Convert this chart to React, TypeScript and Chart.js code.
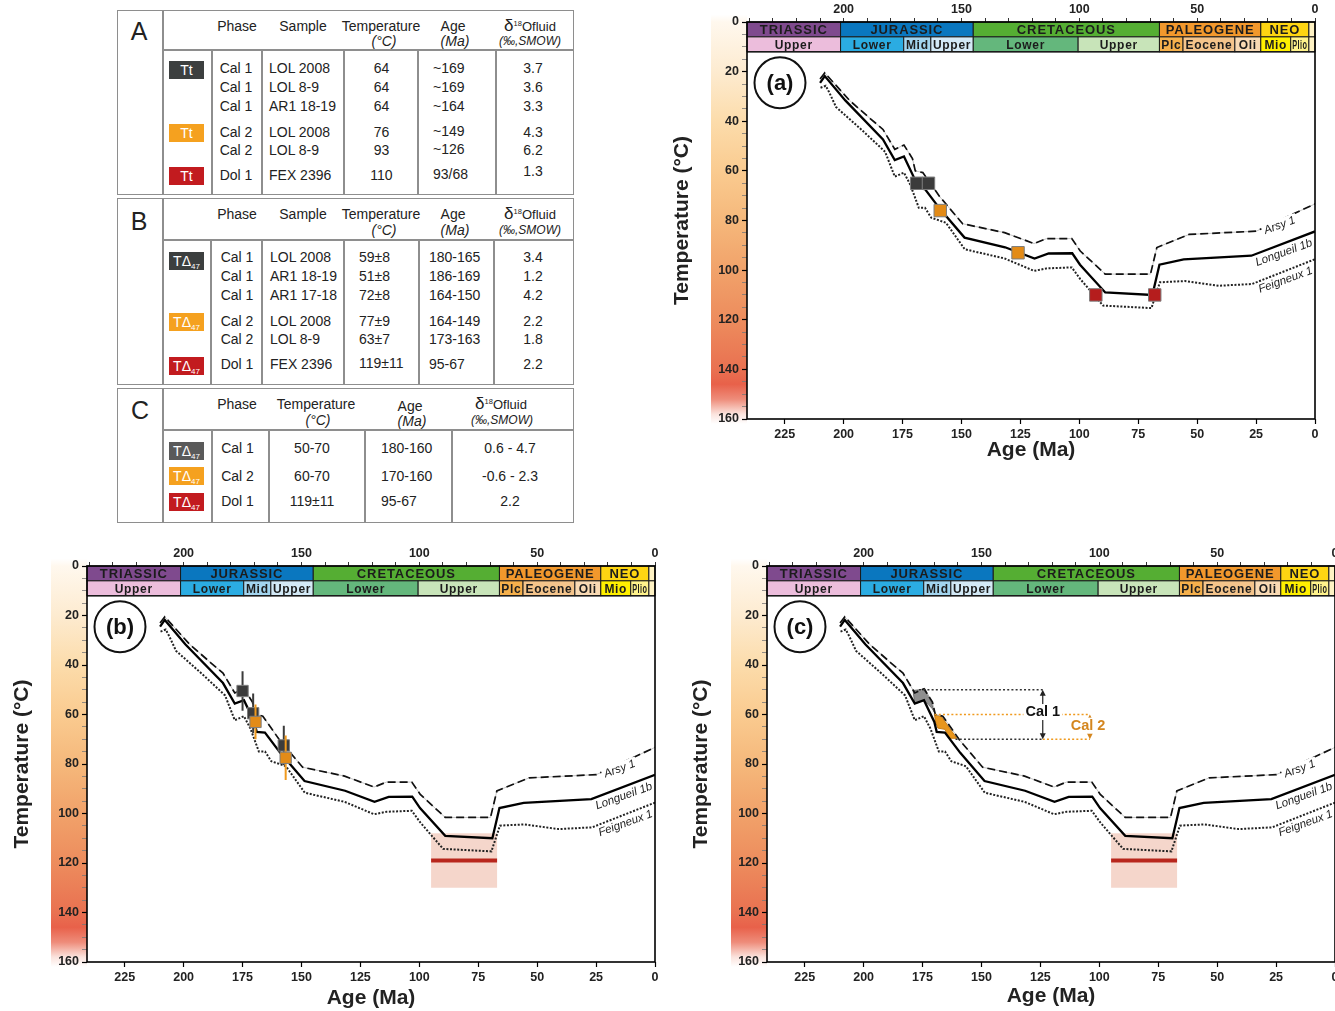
import React, { useEffect, useRef } from "react";
import { Chart, registerables } from "chart.js";
Chart.register(...registerables);

const FONT = '"Liberation Sans", Arial, Helvetica, sans-serif';

// ---------- Burial / thermal curves (age in Ma, temperature in °C) ----------
const ARSY_AGE = [210, 208, 197.5, 188.6, 183.3, 178.3, 174.4, 170.8, 169.6, 166.4, 159.3, 149.5, 131.7, 119.2, 113.9, 103.2, 99.6, 89, 69.8, 67.1, 53.4, 24.9, 0];
const ARSY_T = [23, 20.5, 31.6, 39, 43.3, 51.3, 49.6, 55, 60, 60.7, 70.3, 81.3, 84.9, 89.3, 87.3, 87.3, 92.3, 101.6, 101.6, 90.9, 85.6, 84.3, 73.3];
const LONG_AGE = [210, 208, 199.3, 183.3, 178.3, 174.4, 170, 169, 165.5, 159, 148.7, 131.5, 119, 113, 103, 99.7, 89, 69, 66, 55.7, 27, 0];
const LONG_T = [24.5, 21.8, 31.6, 47.3, 55.6, 54.2, 63, 67, 67.3, 75.5, 86.9, 90.8, 95.3, 93.3, 93.2, 97.8, 109, 110, 97.8, 95.7, 94.2, 84.4];
const FEIG_AGE = [209.8, 207.6, 206.2, 203.2, 192.2, 182.4, 178.3, 174.4, 171.7, 168.1, 165.5, 162.8, 156.6, 148.6, 131.7, 119.2, 113.9, 103.2, 99.6, 89.9, 69.4, 65.8, 55.2, 40.9, 26.7, 0];
const FEIG_T = [26.5, 25.7, 28.2, 34.3, 43.6, 52.3, 62.3, 60.7, 65.6, 74.9, 74.9, 78.9, 80.9, 91.6, 95.3, 100.3, 99.3, 98.9, 103.6, 114.3, 115.3, 104.9, 104.4, 106.3, 105.6, 95.6];
const WELL_NAMES = ["Arsy 1", "Longueil 1b", "Feigneux 1"];
const WELL_LABEL_AGE = [15, 13.2, 12.5];
const WELL_LABEL_T = [82, 93, 104];

// ---------- Panel (a): Tt markers ----------
const A_CAL1_AGE = [169, 164];
const A_CAL1_T = [65, 65];
const A_CAL2_AGE = [159, 126];
const A_CAL2_T = [76, 93];
const A_DOL1_AGE = [93, 68];
const A_DOL1_T = [110, 110];

// ---------- Panel (b): TΔ47 markers with errors ----------
const B_CAL1_AGE = [175, 170.5, 157.5];
const B_CAL1_T = [50.5, 59.5, 72.5];
const B_CAL1_ERR = [8, 8, 8];
const B_CAL2_AGE = [169.5, 156.7];
const B_CAL2_T = [63, 77.5];
const B_CAL2_ERR = [7, 9];
const DOL1_AGE_RANGE = [95, 67];
const DOL1_T = 119;
const DOL1_ERR = 11;

// ---------- Panel (c): zones ----------
const C_CAL1_ZONE_AGE = [179, 176, 174, 171.5, 170, 171, 172.5, 174.4, 178.3];
const C_CAL1_ZONE_T = [50.3, 50, 49.5, 54.5, 59, 57.5, 56, 54.3, 55.6];
const C_CAL2_ZONE_AGE = [169.9, 167, 160.5, 163.5, 165.5, 168.5, 169.5];
const C_CAL2_ZONE_T = [60, 60.8, 69.6, 69.6, 66, 65.5, 63];
const CAL1_T_RANGE = [50, 70];
const CAL2_T_RANGE = [60, 70];
const CAL1_GUIDE_AGE = [176.5, 161, 124];
const CAL2_GUIDE_AGE = [169.9, 161, 104];

// ---------- Geological time scale ----------
const PERIOD_NAMES = ["TRIASSIC", "JURASSIC", "CRETACEOUS", "PALEOGENE", "NEO", ""];
const PERIOD_FROM = [241, 201.3, 145, 66, 23, 2.6];
const PERIOD_TO = [201.3, 145, 66, 23, 2.6, 0];
const PERIOD_COLORS = ["#7f4a8e", "#0a77bf", "#55ae33", "#f2982c", "#fed512", "#fff3c4"];
const EPOCH_NAMES = ["Upper", "Lower", "Mid", "Upper", "Lower", "Upper", "Plc", "Eocene", "Oli", "Mio", "Plio", ""];
const EPOCH_FROM = [241, 201.3, 174.5, 163, 145, 100.5, 66, 56, 34, 23, 10.3, 2.6];
const EPOCH_TO = [201.3, 174.5, 163, 145, 100.5, 66, 56, 34, 23, 10.3, 2.6, 0];
const EPOCH_COLORS = ["#ecbddc", "#2bace2", "#a3d5ef", "#d3e9f6", "#64b77c", "#c8e4b9", "#f5b04c", "#f4c48b", "#f8d9b3", "#fff000", "#fff38c", "#fff3c4"];

// ---------- Axes ----------
const X_TICKS = [225, 200, 175, 150, 125, 100, 75, 50, 25, 0];
const X_TOP_TICKS = [240, 230, 220, 210, 200, 190, 180, 170, 160, 150, 140, 130, 120, 110, 100, 90, 80, 70, 60, 50, 40, 30, 20, 10, 0];
const X_TOP_LABELS = [200, 150, 100, 50, 0];
const Y_TICKS = [0, 5, 10, 15, 20, 25, 30, 35, 40, 45, 50, 55, 60, 65, 70, 75, 80, 85, 90, 95, 100, 105, 110, 115, 120, 125, 130, 135, 140, 145, 150, 155, 160];

const GRAD_T = [-3, 0, 20, 40, 60, 80, 100, 120, 140, 146, 152, 158, 162];
const GRAD_C = ["#ffffff", "#fff8ee", "#fdebd0", "#fcdcab", "#facb90", "#f5b87b", "#f1a26a", "#ed8c5d", "#e97151", "#e8614a", "#ee8c7a", "#fbe3dd", "#ffffff"];

const DARK = "#3b3b3b";
const ORANGE = "#e38b17";
const ORANGE_BAR = "#f09a1e";
const RED = "#b51d1d";

type PanelId = "a" | "b" | "c";
type PanelCfg = {
  id: PanelId;
  left: number;
  top: number;
  width: number;
  height: number;
  padRight: number;
  topAxisH: number;
  bottomAxisH: number;
  yTitlePad: number;
  xTitlePad: number;
};

const PANELS: PanelCfg[] = [
  { id: "a", left: 660, top: 0, width: 675, height: 470, padRight: 20, topAxisH: 22, bottomAxisH: 51, yTitlePad: 10, xTitlePad: 7 },
  { id: "b", left: 0, top: 540, width: 670, height: 471, padRight: 15, topAxisH: 26, bottomAxisH: 49, yTitlePad: 10, xTitlePad: 0 },
  { id: "c", left: 680, top: 540, width: 675, height: 471, padRight: 20, topAxisH: 26, bottomAxisH: 49, yTitlePad: 9, xTitlePad: 2 },
];

const pts = (ages: number[], temps: number[]) => ages.map((a, i) => ({ x: a, y: temps[i] }));

function fitText(ctx: CanvasRenderingContext2D, text: string, cx: number, cy: number, maxW: number) {
  const w = ctx.measureText(text).width;
  if (w > maxW && w > 0) {
    ctx.save();
    ctx.translate(cx, cy);
    ctx.scale(maxW / w, 1);
    ctx.fillText(text, 0, 0);
    ctx.restore();
  } else {
    ctx.fillText(text, cx, cy);
  }
}

function drawArrow(ctx: CanvasRenderingContext2D, x: number, y1: number, y2: number, color: string, dashed: boolean) {
  ctx.save();
  ctx.strokeStyle = color;
  ctx.fillStyle = color;
  ctx.lineWidth = 1.2;
  if (dashed) ctx.setLineDash([2, 2]);
  ctx.beginPath();
  ctx.moveTo(x, y1 + 4);
  ctx.lineTo(x, y2 - 4);
  ctx.stroke();
  ctx.setLineDash([]);
  ctx.beginPath();
  ctx.moveTo(x, y1);
  ctx.lineTo(x - 3, y1 + 6);
  ctx.lineTo(x + 3, y1 + 6);
  ctx.closePath();
  ctx.fill();
  ctx.beginPath();
  ctx.moveTo(x, y2);
  ctx.lineTo(x - 3, y2 - 6);
  ctx.lineTo(x + 3, y2 - 6);
  ctx.closePath();
  ctx.fill();
  ctx.restore();
}

function makePlugin(id: PanelId) {
  return {
    id: "deco" + id,
    beforeDraw(chart: any) {
      const ctx: CanvasRenderingContext2D = chart.ctx;
      const ys = chart.scales.y;
      const { left } = chart.chartArea;
      const yTop = ys.getPixelForValue(GRAD_T[0]);
      const yBot = ys.getPixelForValue(GRAD_T[GRAD_T.length - 1]);
      const g = ctx.createLinearGradient(0, yTop, 0, yBot);
      GRAD_T.forEach((t, i) => {
        g.addColorStop((ys.getPixelForValue(t) - yTop) / (yBot - yTop), GRAD_C[i]);
      });
      ctx.save();
      ctx.fillStyle = g;
      ctx.fillRect(left - 36, yTop, 36, yBot - yTop);
      ctx.restore();
    },
    beforeDatasetsDraw(chart: any) {
      const ctx: CanvasRenderingContext2D = chart.ctx;
      const xs = chart.scales.x;
      const ys = chart.scales.y;
      ctx.save();
      if (id === "b" || id === "c") {
        const x1 = xs.getPixelForValue(DOL1_AGE_RANGE[0]);
        const x2 = xs.getPixelForValue(DOL1_AGE_RANGE[1]);
        const y1 = ys.getPixelForValue(DOL1_T - DOL1_ERR);
        const y2 = ys.getPixelForValue(DOL1_T + DOL1_ERR);
        ctx.fillStyle = "#f5d6cb";
        ctx.fillRect(x1, y1, x2 - x1, y2 - y1);
      }
      if (id === "c") {
        const poly = (ages: number[], temps: number[], fill: string, stroke: string) => {
          ctx.beginPath();
          ages.forEach((a, i) => {
            const px = xs.getPixelForValue(a);
            const py = ys.getPixelForValue(temps[i]);
            if (i === 0) ctx.moveTo(px, py);
            else ctx.lineTo(px, py);
          });
          ctx.closePath();
          ctx.fillStyle = fill;
          ctx.fill();
          ctx.strokeStyle = stroke;
          ctx.lineWidth = 1;
          ctx.stroke();
        };
        poly(C_CAL1_ZONE_AGE, C_CAL1_ZONE_T, "#8e8e8e", "#6a6a6a");
        poly(C_CAL2_ZONE_AGE, C_CAL2_ZONE_T, "#e8961d", "#c87a10");
      }
      ctx.restore();
    },
    afterDatasetsDraw(chart: any) {
      const ctx: CanvasRenderingContext2D = chart.ctx;
      const xs = chart.scales.x;
      const ys = chart.scales.y;
      const ca = chart.chartArea;
      ctx.save();

      // well labels
      ctx.font = `italic 11.5px ${FONT}`;
      ctx.textAlign = "center";
      ctx.textBaseline = "middle";
      WELL_NAMES.forEach((name, i) => {
        const px = xs.getPixelForValue(WELL_LABEL_AGE[i]);
        const py = ys.getPixelForValue(WELL_LABEL_T[i]);
        const w = ctx.measureText(name).width;
        ctx.save();
        ctx.translate(px, py);
        ctx.rotate((-20 * Math.PI) / 180);
        ctx.fillStyle = "#ffffff";
        ctx.fillRect(-w / 2 - 2, -6.5, w + 4, 13);
        ctx.fillStyle = "#222";
        ctx.fillText(name, 0, 0);
        ctx.restore();
      });

      // panel (c) annotations
      if (id === "c") {
        const hline = (a1: number, a2: number, t: number, color: string) => {
          ctx.save();
          ctx.strokeStyle = color;
          ctx.lineWidth = 1.6;
          ctx.setLineDash([2, 2.2]);
          ctx.beginPath();
          ctx.moveTo(xs.getPixelForValue(a1), ys.getPixelForValue(t));
          ctx.lineTo(xs.getPixelForValue(a2), ys.getPixelForValue(t));
          ctx.stroke();
          ctx.restore();
        };
        hline(CAL1_GUIDE_AGE[0], CAL1_GUIDE_AGE[2], CAL1_T_RANGE[0], "#333");
        hline(CAL1_GUIDE_AGE[1], CAL1_GUIDE_AGE[2], CAL1_T_RANGE[1], "#333");
        hline(CAL2_GUIDE_AGE[0], CAL2_GUIDE_AGE[2], CAL2_T_RANGE[0], ORANGE_BAR);
        hline(CAL1_GUIDE_AGE[2], CAL2_GUIDE_AGE[2], CAL2_T_RANGE[1], ORANGE_BAR);
        const ax1 = xs.getPixelForValue(CAL1_GUIDE_AGE[2]);
        drawArrow(ctx, ax1, ys.getPixelForValue(CAL1_T_RANGE[0]), ys.getPixelForValue(CAL1_T_RANGE[1]), "#222", false);
        const ax2 = xs.getPixelForValue(CAL2_GUIDE_AGE[2]);
        drawArrow(ctx, ax2, ys.getPixelForValue(CAL2_T_RANGE[0]), ys.getPixelForValue(CAL2_T_RANGE[1]), "#d4861f", true);
        ctx.font = `bold 14.5px ${FONT}`;
        ctx.textAlign = "center";
        ctx.textBaseline = "middle";
        const lab = (txt: string, a: number, t: number, color: string) => {
          const px = xs.getPixelForValue(a);
          const py = ys.getPixelForValue(t);
          const w = ctx.measureText(txt).width;
          ctx.fillStyle = "#fff";
          ctx.fillRect(px - w / 2 - 2, py - 8, w + 4, 16);
          ctx.fillStyle = color;
          ctx.fillText(txt, px, py);
        };
        lab("Cal 1", CAL1_GUIDE_AGE[2], 59, "#111");
        lab("Cal 2", CAL2_GUIDE_AGE[2] + 0.8, 64.5, "#d4861f");
      }

      // circled panel letter
      {
        const cx = xs.getPixelForValue(227);
        const cy = ys.getPixelForValue(24.5);
        ctx.beginPath();
        ctx.arc(cx, cy, 25.5, 0, Math.PI * 2);
        ctx.fillStyle = "#fff";
        ctx.fill();
        ctx.lineWidth = 2;
        ctx.strokeStyle = "#111";
        ctx.stroke();
        ctx.fillStyle = "#111";
        ctx.font = `bold 22px ${FONT}`;
        ctx.textAlign = "center";
        ctx.textBaseline = "middle";
        ctx.fillText(`(${id})`, cx, cy + 1);
      }

      // time scale
      const r0 = ys.getPixelForValue(0);
      const r1 = ys.getPixelForValue(6);
      const r2 = ys.getPixelForValue(12);
      ctx.textAlign = "center";
      ctx.textBaseline = "middle";
      ctx.lineWidth = 1;
      ctx.strokeStyle = "#1a1a1a";
      PERIOD_NAMES.forEach((name, i) => {
        const x1 = xs.getPixelForValue(PERIOD_FROM[i]);
        const x2 = xs.getPixelForValue(PERIOD_TO[i]);
        ctx.fillStyle = PERIOD_COLORS[i];
        ctx.fillRect(x1, r0, x2 - x1, r1 - r0);
        ctx.strokeRect(x1, r0, x2 - x1, r1 - r0);
        if (name) {
          ctx.fillStyle = "#1c1c1c";
          ctx.font = `bold 13px ${FONT}`;
          (ctx as any).letterSpacing = "0.9px";
          fitText(ctx, name, (x1 + x2) / 2, (r0 + r1) / 2 + 1, x2 - x1 - 3);
          (ctx as any).letterSpacing = "0px";
        }
      });
      EPOCH_NAMES.forEach((name, i) => {
        const x1 = xs.getPixelForValue(EPOCH_FROM[i]);
        const x2 = xs.getPixelForValue(EPOCH_TO[i]);
        ctx.fillStyle = EPOCH_COLORS[i];
        ctx.fillRect(x1, r1, x2 - x1, r2 - r1);
        ctx.strokeRect(x1, r1, x2 - x1, r2 - r1);
        if (name) {
          ctx.fillStyle = "#1c1c1c";
          ctx.font = `bold 12px ${FONT}`;
          (ctx as any).letterSpacing = "0.7px";
          fitText(ctx, name, (x1 + x2) / 2, (r1 + r2) / 2 + 1, x2 - x1 - 3);
          (ctx as any).letterSpacing = "0px";
        }
      });
      ctx.lineWidth = 1.6;
      ctx.beginPath();
      ctx.moveTo(ca.left, r2);
      ctx.lineTo(ca.right, r2);
      ctx.stroke();

      // frame
      ctx.strokeStyle = "#000";
      ctx.lineWidth = 1.6;
      ctx.strokeRect(ca.left, ca.top, ca.right - ca.left, ca.bottom - ca.top);
      ctx.restore();
    },
  };
}

function buildConfig(cfg: PanelCfg): any {
  const lineBase = { showLine: true, pointRadius: 0, fill: false, tension: 0 };
  const datasets: any[] = [
    { ...lineBase, data: pts(ARSY_AGE, ARSY_T), borderColor: "#b5b5b5", borderWidth: 0.8, order: 20 },
    { ...lineBase, data: pts(ARSY_AGE, ARSY_T), borderColor: "#111", borderWidth: 1.7, borderDash: [8, 4], order: 19 },
    { ...lineBase, data: pts(LONG_AGE, LONG_T), borderColor: "#000", borderWidth: 2.3, order: 18 },
    { ...lineBase, data: pts(FEIG_AGE, FEIG_T), borderColor: "#222", borderWidth: 2, borderDash: [2, 1.6], order: 17 },
  ];
  const marker = (ages: number[], temps: number[], color: string, r: number, order: number) => ({
    data: pts(ages, temps),
    showLine: false,
    pointStyle: "rect",
    pointRadius: r,
    backgroundColor: color,
    borderColor: "#7d7d7d",
    borderWidth: 1,
    order,
  });
  if (cfg.id === "a") {
    datasets.push(marker(A_CAL1_AGE, A_CAL1_T, DARK, 8.8, 3));
    datasets.push(marker(A_CAL2_AGE, A_CAL2_T, ORANGE, 8.8, 2));
    datasets.push(marker(A_DOL1_AGE, A_DOL1_T, RED, 8.8, 1));
  }
  if (cfg.id === "b") {
    B_CAL1_AGE.forEach((a, i) => {
      datasets.push({ ...lineBase, data: [{ x: a, y: B_CAL1_T[i] - B_CAL1_ERR[i] }, { x: a, y: B_CAL1_T[i] + B_CAL1_ERR[i] }], borderColor: DARK, borderWidth: 2, order: 4 });
    });
    datasets.push(marker(B_CAL1_AGE, B_CAL1_T, DARK, 8, 3));
    B_CAL2_AGE.forEach((a, i) => {
      datasets.push({ ...lineBase, data: [{ x: a, y: B_CAL2_T[i] - B_CAL2_ERR[i] }, { x: a, y: B_CAL2_T[i] + B_CAL2_ERR[i] }], borderColor: ORANGE_BAR, borderWidth: 2, order: 2 });
    });
    datasets.push(marker(B_CAL2_AGE, B_CAL2_T, ORANGE, 8, 1));
  }
  if (cfg.id === "b" || cfg.id === "c") {
    datasets.push({ ...lineBase, data: [{ x: DOL1_AGE_RANGE[0], y: DOL1_T }, { x: DOL1_AGE_RANGE[1], y: DOL1_T }], borderColor: "#b8261c", borderWidth: 4, order: 0 });
  }

  const tickFont = { family: FONT, size: 12.5, weight: "bold" as const };
  return {
    type: "scatter",
    data: { datasets },
    plugins: [makePlugin(cfg.id)],
    options: {
      animation: false,
      responsive: false,
      events: [],
      layout: { padding: { left: 0, right: cfg.padRight, top: 0, bottom: 0 } },
      plugins: { legend: { display: false }, tooltip: { enabled: false } },
      scales: {
        x: {
          type: "linear",
          position: "bottom",
          min: 0,
          max: 241,
          reverse: true,
          afterBuildTicks: (s: any) => {
            s.ticks = X_TICKS.map((v) => ({ value: v }));
          },
          afterFit: (s: any) => {
            s.height = cfg.bottomAxisH;
          },
          ticks: { font: tickFont, color: "#222", padding: 3, maxRotation: 0, autoSkip: false, callback: (v: any) => String(v) },
          grid: { drawOnChartArea: false, drawTicks: true, tickLength: 5, tickColor: "#000", tickWidth: 1.2 },
          border: { display: false },
          title: { display: true, text: "Age (Ma)", color: "#222", font: { family: FONT, size: 21, weight: "bold" }, padding: { top: 0, bottom: cfg.xTitlePad } },
        },
        xTop: {
          type: "linear",
          position: "top",
          min: 0,
          max: 241,
          reverse: true,
          afterBuildTicks: (s: any) => {
            s.ticks = X_TOP_TICKS.map((v) => ({ value: v }));
          },
          afterFit: (s: any) => {
            s.height = cfg.topAxisH;
          },
          ticks: {
            font: tickFont,
            color: "#222",
            padding: 1,
            maxRotation: 0,
            autoSkip: false,
            callback: (v: any) => (X_TOP_LABELS.includes(Number(v)) ? String(v) : ""),
          },
          grid: { drawOnChartArea: false, drawTicks: true, tickLength: 4, tickColor: "#333", tickWidth: 1 },
          border: { display: false },
        },
        y: {
          type: "linear",
          position: "left",
          min: 0,
          max: 160,
          reverse: true,
          afterBuildTicks: (s: any) => {
            s.ticks = Y_TICKS.map((v) => ({ value: v }));
          },
          afterFit: (s: any) => {
            s.width = 87;
          },
          ticks: { font: tickFont, color: "#222", padding: 3, autoSkip: false, callback: (v: any) => (Number(v) % 20 === 0 ? String(v) : "") },
          grid: {
            drawOnChartArea: false,
            drawTicks: true,
            tickLength: 5,
            tickColor: (c: any) => (c.tick && c.tick.value % 20 === 0 ? "#000" : "#777"),
            tickWidth: (c: any) => (c.tick && c.tick.value % 20 === 0 ? 1.2 : 0.8),
          },
          border: { display: false },
          title: { display: true, text: "Temperature (°C)", color: "#222", font: { family: FONT, size: 21, weight: "bold" }, padding: { top: cfg.yTitlePad, bottom: 0 } },
        },
      },
    },
  };
}

function Panel({ cfg }: { cfg: PanelCfg }) {
  const ref = useRef<HTMLCanvasElement>(null);
  useEffect(() => {
    const chart = new Chart(ref.current as HTMLCanvasElement, buildConfig(cfg));
    return () => chart.destroy();
  }, []);
  return (
    <canvas
      ref={ref}
      width={cfg.width}
      height={cfg.height}
      style={{ position: "absolute", left: cfg.left, top: cfg.top, width: cfg.width, height: cfg.height }}
    />
  );
}

// ---------- Tables ----------
const A_PHASE = ["Cal 1", "Cal 1", "Cal 1", "Cal 2", "Cal 2", "Dol 1"];
const A_SAMPLE = ["LOL 2008", "LOL 8-9", "AR1 18-19", "LOL 2008", "LOL 8-9", "FEX 2396"];
const A_TEMP = ["64", "64", "64", "76", "93", "110"];
const A_AGE = ["~169", "~169", "~164", "~149", "~126", "93/68"];
const A_D18O = ["3.7", "3.6", "3.3", "4.3", "6.2", "1.3"];

const B_PHASE = ["Cal 1", "Cal 1", "Cal 1", "Cal 2", "Cal 2", "Dol 1"];
const B_SAMPLE = ["LOL 2008", "AR1 18-19", "AR1 17-18", "LOL 2008", "LOL 8-9", "FEX 2396"];
const B_TEMP = ["59±8", "51±8", "72±8", "77±9", "63±7", "119±11"];
const B_AGE = ["180-165", "186-169", "164-150", "164-149", "173-163", "95-67"];
const B_D18O = ["3.4", "1.2", "4.2", "2.2", "1.8", "2.2"];

const C_PHASE = ["Cal 1", "Cal 2", "Dol 1"];
const C_TEMP = ["50-70", "60-70", "119±11"];
const C_AGE = ["180-160", "170-160", "95-67"];
const C_D18O = ["0.6 - 4.7", "-0.6 - 2.3", "2.2"];

const BADGE_COLORS = ["#3c3f3f", "#f5a11f", "#c21b1f"];

const A_ROW_Y = [68, 87, 106, 132, 150, 175];
const B_ROW_Y = [257, 276, 295, 321, 339, 364];
const C_ROW_Y = [448, 476, 501];

const LINE_C = "#8e8e8e";
const TXT = "#222";

function Txt({ x, y, children, anchor = "middle", size = 14, italic = false }: any) {
  const tx = anchor === "middle" ? "-50%" : anchor === "end" ? "-100%" : "0";
  return (
    <div
      style={{
        position: "absolute",
        left: x,
        top: y,
        transform: `translate(${tx}, -50%)`,
        whiteSpace: "nowrap",
        fontSize: size,
        fontStyle: italic ? "italic" : "normal",
        lineHeight: 1,
        color: TXT,
        fontFamily: FONT,
      }}
    >
      {children}
    </div>
  );
}

function HL({ x1, x2, y }: any) {
  return <div style={{ position: "absolute", left: x1, top: y - 0.75, width: x2 - x1, height: 1.5, background: LINE_C }} />;
}
function VL({ x, y1, y2 }: any) {
  return <div style={{ position: "absolute", left: x - 0.75, top: y1, width: 1.5, height: y2 - y1, background: LINE_C }} />;
}
function Box({ x1, y1, x2, y2 }: any) {
  return (
    <div
      style={{ position: "absolute", left: x1, top: y1, width: x2 - x1, height: y2 - y1, border: `1.5px solid ${LINE_C}`, boxSizing: "border-box" }}
    />
  );
}
function Badge({ y, color, delta }: any) {
  return (
    <div
      style={{
        position: "absolute",
        left: 169,
        top: y,
        width: 35,
        height: 18,
        background: color,
        color: "#fff",
        fontFamily: FONT,
        fontSize: 14,
        lineHeight: "18px",
        textAlign: "center",
        whiteSpace: "nowrap",
      }}
    >
      {delta ? (
        <span>
          TΔ<sub style={{ fontSize: 8, verticalAlign: "-3px" }}>47</sub>
        </span>
      ) : (
        "Tt"
      )}
    </div>
  );
}
function Delta({ x, y }: any) {
  return (
    <Txt x={x} y={y} size={13}>
      <span style={{ fontSize: 17 }}>δ</span>
      <sup style={{ fontSize: 7.5, verticalAlign: "5px" }}>18</sup>Ofluid
    </Txt>
  );
}

function Tables() {
  return (
    <div>
      {/* Table A */}
      <Box x1={117} y1={10} x2={574} y2={195} />
      <VL x={163} y1={10} y2={195} />
      <HL x1={163} x2={573} y={50} />
      {[212, 262, 344, 418, 496].map((x) => (
        <VL key={"av" + x} x={x} y1={50} y2={195} />
      ))}
      <Txt x={139} y={31} size={25}>A</Txt>
      <Txt x={237} y={26}>Phase</Txt>
      <Txt x={303} y={26}>Sample</Txt>
      <Txt x={381} y={26}>Temperature</Txt>
      <Txt x={384} y={41} italic>(°C)</Txt>
      <Txt x={453} y={26}>Age</Txt>
      <Txt x={455} y={41} italic>(Ma)</Txt>
      <Delta x={530} y={25} />
      <Txt x={530} y={41} size={12} italic>(‰,SMOW)</Txt>
      <Badge y={61} color={BADGE_COLORS[0]} />
      <Badge y={124} color={BADGE_COLORS[1]} />
      <Badge y={167} color={BADGE_COLORS[2]} />
      {A_PHASE.map((p, i) => (
        <React.Fragment key={"ar" + i}>
          <Txt x={236} y={A_ROW_Y[i]}>{p}</Txt>
          <Txt x={269} y={A_ROW_Y[i]} anchor="start">{A_SAMPLE[i]}</Txt>
          <Txt x={381.5} y={A_ROW_Y[i]}>{A_TEMP[i]}</Txt>
          <Txt x={433} y={A_ROW_Y[i] - (i >= 3 ? 1.5 : 0)} anchor="start">{A_AGE[i]}</Txt>
          <Txt x={533} y={A_ROW_Y[i] - (i === 5 ? 4 : 0)}>{A_D18O[i]}</Txt>
        </React.Fragment>
      ))}

      {/* Table B */}
      <Box x1={117} y1={198} x2={574} y2={385} />
      <VL x={163} y1={198} y2={385} />
      <HL x1={163} x2={573} y={240} />
      {[211, 262, 344, 419, 494].map((x) => (
        <VL key={"bv" + x} x={x} y1={240} y2={385} />
      ))}
      <Txt x={139} y={221} size={25}>B</Txt>
      <Txt x={237} y={214}>Phase</Txt>
      <Txt x={303} y={214}>Sample</Txt>
      <Txt x={381} y={214}>Temperature</Txt>
      <Txt x={384} y={230} italic>(°C)</Txt>
      <Txt x={453} y={214}>Age</Txt>
      <Txt x={455} y={230} italic>(Ma)</Txt>
      <Delta x={530} y={213} />
      <Txt x={530} y={230} size={12} italic>(‰,SMOW)</Txt>
      <Badge y={252} color={BADGE_COLORS[0]} delta />
      <Badge y={313} color={BADGE_COLORS[1]} delta />
      <Badge y={357} color={BADGE_COLORS[2]} delta />
      {B_PHASE.map((p, i) => (
        <React.Fragment key={"br" + i}>
          <Txt x={237} y={B_ROW_Y[i]}>{p}</Txt>
          <Txt x={270} y={B_ROW_Y[i]} anchor="start">{B_SAMPLE[i]}</Txt>
          <Txt x={359} y={B_ROW_Y[i] - (i === 5 ? 1 : 0)} anchor="start">{B_TEMP[i]}</Txt>
          <Txt x={429} y={B_ROW_Y[i]} anchor="start">{B_AGE[i]}</Txt>
          <Txt x={533} y={B_ROW_Y[i]}>{B_D18O[i]}</Txt>
        </React.Fragment>
      ))}

      {/* Table C */}
      <Box x1={117} y1={388} x2={574} y2={523} />
      <VL x={163} y1={388} y2={523} />
      <HL x1={163} x2={573} y={430} />
      {[212, 269, 365, 452].map((x) => (
        <VL key={"cv" + x} x={x} y1={430} y2={523} />
      ))}
      <Txt x={140} y={410} size={25}>C</Txt>
      <Txt x={237} y={404}>Phase</Txt>
      <Txt x={316} y={404}>Temperature</Txt>
      <Txt x={318} y={420} italic>(°C)</Txt>
      <Txt x={410} y={406}>Age</Txt>
      <Txt x={412} y={421} italic>(Ma)</Txt>
      <Delta x={501} y={403} />
      <Txt x={502} y={420} size={12} italic>(‰,SMOW)</Txt>
      <Badge y={442} color="#5a5a5a" delta />
      <Badge y={467} color={BADGE_COLORS[1]} delta />
      <Badge y={493} color={BADGE_COLORS[2]} delta />
      {C_PHASE.map((p, i) => (
        <React.Fragment key={"cr" + i}>
          <Txt x={237.5} y={C_ROW_Y[i]}>{p}</Txt>
          <Txt x={312} y={C_ROW_Y[i]}>{C_TEMP[i]}</Txt>
          <Txt x={381} y={C_ROW_Y[i]} anchor="start">{C_AGE[i]}</Txt>
          <Txt x={510} y={C_ROW_Y[i]}>{C_D18O[i]}</Txt>
        </React.Fragment>
      ))}
    </div>
  );
}

export default function App() {
  return (
    <div
      style={{
        position: "absolute",
        left: 0,
        top: 0,
        width: 1335,
        height: 1011,
        overflow: "hidden",
        background: "#fff",
        fontFamily: FONT,
      }}
    >
      <Tables />
      {PANELS.map((p) => (
        <Panel key={p.id} cfg={p} />
      ))}
    </div>
  );
}
